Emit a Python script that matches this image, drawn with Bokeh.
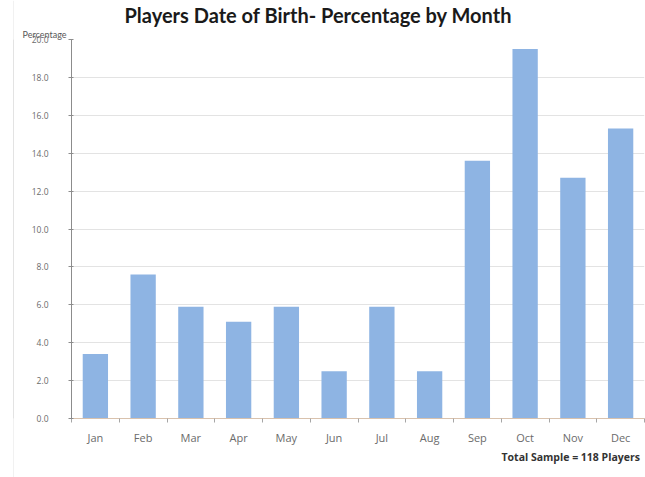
from bokeh.plotting import figure
from bokeh.layouts import row
from bokeh.models import Range1d, FixedTicker, Title, NumeralTickFormatter, Spacer
from bokeh.embed import file_html
from bokeh.resources import INLINE

# Share of players born in each month (total sample of 118 players)
months = ["Jan", "Feb", "Mar", "Apr", "May", "Jun", "Jul", "Aug", "Sep", "Oct", "Nov", "Dec"]
percentages = [3.4, 7.6, 5.9, 5.1, 5.9, 2.5, 5.9, 2.5, 13.6, 19.5, 12.7, 15.3]
y_ticks = [0, 2, 4, 6, 8, 10, 12, 14, 16, 18, 20]

TITLE_FONT = "Lato"
FONT = "Open Sans"
BORDER = "#c8c8c8"
positions = list(range(len(months)))

p = figure(
    width=631, height=477,
    x_range=Range1d(-0.5, len(months) - 0.5),
    y_range=Range1d(0, 20),
    output_backend="svg", toolbar_location=None,
    min_border_left=57, min_border_right=1, min_border_top=38, min_border_bottom=59,
)
p.outline_line_color = None
p.background_fill_color = "white"
p.border_fill_color = "white"

p.add_layout(Title(text="Percentage", align="left", offset=-49,
                   text_font=TITLE_FONT, text_font_size="9px", text_font_style="normal",
                   text_color="#595959", standoff=0), "above")
p.add_layout(Title(text="Players Date of Birth- Percentage by Month", align="left", offset=53,
                   text_font=TITLE_FONT, text_font_size="20px", text_font_style="bold",
                   text_color="#1a1a1a", standoff=0), "above")

p.vbar(x=positions, top=percentages, width=0.53, fill_color="#8eb4e3", line_color=None)

# y axis
p.yaxis.ticker = FixedTicker(ticks=y_ticks)
p.yaxis.formatter = NumeralTickFormatter(format="0.0")
p.yaxis.axis_line_color = "#8c8c8c"
p.yaxis.major_tick_line_color = "#8c8c8c"
p.yaxis.major_tick_out = 3
p.yaxis.major_tick_in = 2
p.yaxis.minor_tick_line_color = None
p.yaxis.major_label_text_font = FONT
p.yaxis.major_label_text_font_size = "8.5px"
p.yaxis.major_label_text_color = "#6b6b6b"
p.yaxis.major_label_standoff = 20

# x axis: month names at the centres, tick marks between months
p.xaxis.ticker = FixedTicker(ticks=positions, minor_ticks=[i - 0.5 for i in range(len(months) + 1)])
p.xaxis.major_label_overrides = {i: m for i, m in enumerate(months)}
p.xaxis.axis_line_color = "#d9c2ad"
p.xaxis.major_tick_line_color = None
p.xaxis.minor_tick_line_color = "#a6a6a6"
p.xaxis.minor_tick_out = 4
p.xaxis.minor_tick_in = 0
p.xaxis.major_label_text_font = FONT
p.xaxis.major_label_text_font_size = "11px"
p.xaxis.major_label_text_color = "#6b6b6b"
p.xaxis.major_label_standoff = 5

p.xgrid.grid_line_color = None
p.ygrid.grid_line_color = "#e3e3e3"

p.add_layout(Title(text="Total Sample = 118 Players", align="left", offset=430,
                   text_font=FONT, text_font_size="10.5px", text_font_style="bold",
                   text_color="#333333", standoff=0), "below")

# thin vertical rule along the left edge of the chart area
edge = figure(width=1, height=477, output_backend="svg", toolbar_location=None,
              min_border=0, x_axis_type=None, y_axis_type=None)
edge.background_fill_color = BORDER
edge.border_fill_color = BORDER
edge.outline_line_color = None
edge.xgrid.grid_line_color = None
edge.ygrid.grid_line_color = None

chart = row(Spacer(width=13, height=477), edge, p)

open("out.html", "w").write(file_html(chart, INLINE))
